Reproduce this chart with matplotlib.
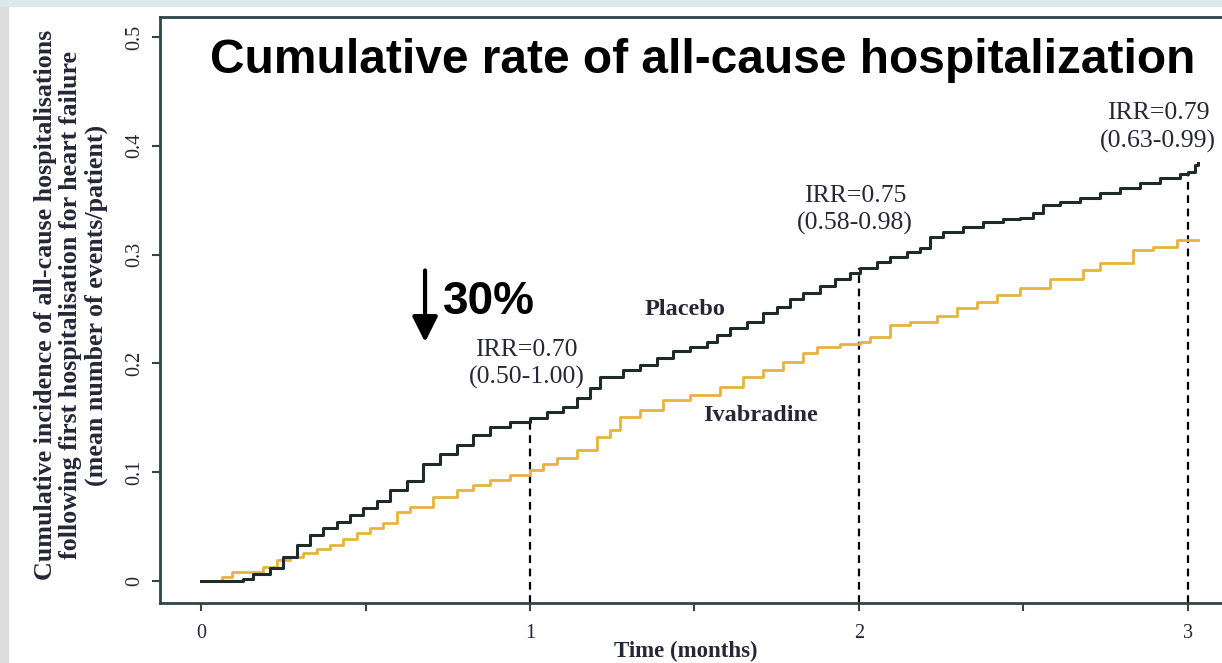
import numpy as np
import matplotlib.pyplot as plt
from matplotlib.patches import Rectangle

# DATA (months vs mean events/patient)
placebo_t = [0, 0.128, 0.158, 0.210, 0.249, 0.292, 0.331, 0.371, 0.413, 0.453,
             0.492, 0.535, 0.574, 0.626, 0.675, 0.726, 0.778, 0.827, 0.878, 0.939,
             1.000, 1.052, 1.100, 1.143, 1.182, 1.213, 1.283, 1.334, 1.386, 1.435,
             1.486, 1.538, 1.568, 1.608, 1.660, 1.708, 1.751, 1.790, 1.830, 1.881,
             1.927, 1.973, 2.003, 2.055, 2.094, 2.146, 2.185, 2.216, 2.255, 2.316,
             2.377, 2.438, 2.489, 2.529, 2.559, 2.611, 2.672, 2.733, 2.793, 2.854,
             2.915, 2.976, 3.000, 3.021, 3.030]
placebo_y = [0, 0.002, 0.006, 0.012, 0.022, 0.033, 0.042, 0.049, 0.054, 0.061,
             0.067, 0.074, 0.084, 0.092, 0.108, 0.117, 0.125, 0.134, 0.142, 0.146,
             0.150, 0.155, 0.160, 0.168, 0.177, 0.1875, 0.194, 0.199, 0.205, 0.211,
             0.215, 0.220, 0.226, 0.233, 0.238, 0.246, 0.252, 0.259, 0.265, 0.271,
             0.278, 0.283, 0.288, 0.293, 0.298, 0.302, 0.306, 0.316, 0.321, 0.325,
             0.330, 0.333, 0.334, 0.338, 0.346, 0.348, 0.352, 0.357, 0.361, 0.366,
             0.370, 0.374, 0.376, 0.382, 0.384]

ivab_t = [0, 0.064, 0.094, 0.188, 0.231, 0.271, 0.310, 0.353, 0.392, 0.432,
          0.474, 0.514, 0.553, 0.596, 0.635, 0.705, 0.778, 0.827, 0.878, 0.939,
          1.000, 1.040, 1.082, 1.143, 1.204, 1.243, 1.274, 1.334, 1.404, 1.486,
          1.578, 1.647, 1.708, 1.769, 1.830, 1.872, 1.942, 2.003, 2.033, 2.094,
          2.155, 2.237, 2.298, 2.359, 2.419, 2.489, 2.581, 2.681, 2.733, 2.833,
          2.894, 2.967, 3.030]
ivab_y = [0, 0.004, 0.008, 0.013, 0.019, 0.022, 0.026, 0.029, 0.033, 0.039,
          0.044, 0.049, 0.053, 0.063, 0.068, 0.077, 0.084, 0.088, 0.093, 0.097,
          0.102, 0.108, 0.113, 0.120, 0.132, 0.139, 0.151, 0.157, 0.166, 0.171,
          0.178, 0.1875, 0.194, 0.201, 0.2095, 0.215, 0.218, 0.220, 0.224, 0.235,
          0.238, 0.244, 0.251, 0.256, 0.263, 0.269, 0.278, 0.286, 0.292, 0.304,
          0.307, 0.313, 0.313]

irr_months = [1, 2, 3]
irr_top = [0.150, 0.288, 0.376]
irr_text = ["IRR=0.70\n(0.50-1.00)", "IRR=0.75\n(0.58-0.98)", "IRR=0.79\n(0.63-0.99)"]
irr_text_pos = [(0.99, 0.1995), (1.988, 0.341), (2.91, 0.417)]

x_ticks = [0, 1, 2, 3]
x_minor = [0.5, 1.5, 2.5]
y_ticks = [0, 0.1, 0.2, 0.3, 0.4, 0.5]
y_ticklabels = ["0", "0.1", "0.2", "0.3", "0.4", "0.5"]

SERIF = ["Liberation Serif", "DejaVu Serif"]
SANS = ["Liberation Sans", "DejaVu Sans"]
TXT = "#262636"

fig = plt.figure(figsize=(12.22, 6.63), dpi=100, facecolor="white")
fig.patches.append(Rectangle((0, 0), 8 / 1222, 1, transform=fig.transFigure,
                             color="#dcdcdc", zorder=0))
fig.patches.append(Rectangle((0, 1 - 6 / 663), 1, 6 / 663, transform=fig.transFigure,
                             color="#dde8ee", zorder=0))

ax = fig.add_axes([160 / 1222, 60 / 663, 1077 / 1222, 586 / 663])
ax.set_xlim(-0.125, 3.15)
ax.set_ylim(-0.0202, 0.5184)

ax.plot(ivab_t, ivab_y, drawstyle="steps-post", color="#e6b43c", lw=2.0, zorder=3)
ax.plot(placebo_t, placebo_y, drawstyle="steps-post", color="#1f2b2b", lw=2.2, zorder=4)

for m, top in zip(irr_months, irr_top):
    ax.plot([m, m], [-0.0202, top], color="black", lw=1.6, ls=(0, (3.5, 2.5)), zorder=2)
for txt, (tx, ty) in zip(irr_text, irr_text_pos):
    ax.text(tx, ty, txt, ha="center", va="center", fontsize=18.5, family=SERIF,
            color=TXT, linespacing=1.3)

ax.text(1.47, 0.250, "Placebo", ha="center", va="center", fontsize=17.5,
        fontweight="bold", family=SERIF, color=TXT)
ax.text(1.70, 0.152, "Ivabradine", ha="center", va="center", fontsize=17.5,
        fontweight="bold", family=SERIF, color=TXT)

ax.text(0.504, 0.925, "Cumulative rate of all-cause hospitalization", transform=ax.transAxes,
        ha="center", va="center", fontsize=34.5, fontweight="bold", family=SANS,
        color="black")
ax.text(0.735, 0.256, "30%", ha="left", va="center", fontsize=33, fontweight="bold",
        family=SANS, color="black")
ax.annotate("", xy=(0.681, 0.217), xytext=(0.681, 0.288),
            arrowprops=dict(arrowstyle="-|>,head_width=0.35,head_length=0.7",
                            lw=3, color="black", mutation_scale=22))

ax.spines["right"].set_visible(False)
for s in ["left", "bottom", "top"]:
    ax.spines[s].set_color("#2e4646")
    ax.spines[s].set_linewidth(2.0)

ax.set_xticks(x_ticks)
ax.set_xticks(x_minor, minor=True)
ax.set_xticklabels([str(v) for v in x_ticks], fontsize=14.5, family=SERIF, color=TXT)
ax.set_yticks(y_ticks)
ax.set_yticklabels(y_ticklabels, fontsize=14.5, family=SERIF, color=TXT,
                   rotation=90, va="center")
ax.tick_params(axis="both", which="both", direction="out", length=6, width=1.5,
               color="#2e4646")
ax.tick_params(axis="y", pad=5)
ax.tick_params(axis="x", pad=9)

fig.text(686 / 1222, 1 - 651 / 663, "Time (months)", ha="center", va="center",
         fontsize=16.5, fontweight="bold", family=SERIF, color=TXT)
fig.text(71 / 1222, 1 - 305 / 663,
         "Cumulative incidence of all-cause hospitalisations\n"
         "following first hospitalisation for heart failure\n"
         "(mean number of events/patient)",
         rotation=90, ha="center", va="center", multialignment="center",
         fontsize=18.7, fontweight="bold", family=SERIF, color=TXT, linespacing=1.1)

fig.savefig("out.png", dpi=100)
